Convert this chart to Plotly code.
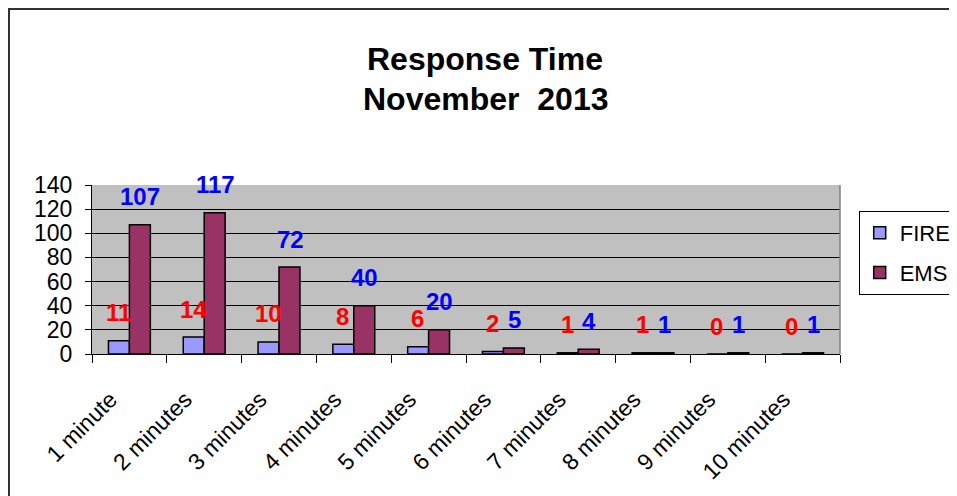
import plotly.graph_objects as go

categories = ["1 minute", "2 minutes", "3 minutes", "4 minutes", "5 minutes",
              "6 minutes", "7 minutes", "8 minutes", "9 minutes", "10 minutes"]
fire = [11, 14, 10, 8, 6, 2, 1, 1, 0, 0]
ems = [107, 117, 72, 40, 20, 5, 4, 1, 1, 1]
y_ticks = [0, 20, 40, 60, 80, 100, 120, 140]

FONT = "Liberation Sans, Arial, sans-serif"

fig = go.Figure()
fig.add_trace(go.Bar(name="FIRE", x=categories, y=fire, legendgroup="a",
                     marker=dict(color="#9999FF", line=dict(color="black", width=1.5))))
fig.add_trace(go.Bar(name="EMS", x=categories, y=ems, legendgroup="b",
                     marker=dict(color="#993366", line=dict(color="black", width=1.5))))

annotations = []
for c, v in zip(categories, fire):
    annotations.append(dict(x=c, y=v, xref="x", yref="y", text=str(v), showarrow=False,
                            xshift=-11, yshift=28, yanchor="middle",
                            font=dict(family=FONT, size=24, color="#FF0000", weight="bold")))
for c, v in zip(categories, ems):
    annotations.append(dict(x=c, y=v, xref="x", yref="y", text=str(v), showarrow=False,
                            xshift=11, yshift=28, yanchor="middle",
                            font=dict(family=FONT, size=24, color="#0000FF", weight="bold")))
annotations.append(dict(x=0.526, y=1.745, xref="paper", yref="paper", text="Response Time",
                        showarrow=False, yanchor="middle",
                        font=dict(family=FONT, size=32, color="black", weight="bold")))
annotations.append(dict(x=0.526, y=1.51, xref="paper", yref="paper", text="November\u00a0 2013",
                        showarrow=False, yanchor="middle",
                        font=dict(family=FONT, size=32, color="black", weight="bold")))

fig.update_layout(
    width=949, height=488,
    margin=dict(l=84, r=117, t=177, b=142, autoexpand=False),
    paper_bgcolor="white", plot_bgcolor="#C0C0C0",
    barmode="group", bargap=0.44, bargroupgap=0,
    font=dict(family=FONT, size=23, color="black"),
    showlegend=True,
    legend=dict(x=1.025, y=0.846, xanchor="left", yanchor="top",
                bordercolor="black", borderwidth=1, bgcolor="white",
                font=dict(family=FONT, size=22, color="black"),
                traceorder="grouped", tracegroupgap=8),
    annotations=annotations,
    shapes=[
        dict(type="line", xref="paper", yref="paper", x0=1, x1=1, y0=0, y1=1,
             line=dict(color="#808080", width=1.5)),
        dict(type="rect", xref="paper", yref="paper",
             x0=-83 / 748, x1=1.3, y0=-1.0, y1=1 + 176 / 169,
             line=dict(color="#333333", width=2), fillcolor="rgba(0,0,0,0)", layer="below"),
    ],
)
fig.update_xaxes(type="category", showline=True, linecolor="black", linewidth=1,
                 ticks="outside", tickson="boundaries", ticklen=8, tickcolor="black",
                 tickangle=-45, showgrid=False, ticklabelstandoff=22, ticklabelshift=-19,
                 tickfont=dict(family=FONT, size=23, color="black"))
fig.update_yaxes(range=[0, 140], tickvals=y_ticks, showline=True, linecolor="black", linewidth=1,
                 ticks="outside", ticklen=6, tickcolor="black", ticklabelstandoff=8,
                 showgrid=True, gridcolor="black", gridwidth=1, zeroline=False,
                 tickfont=dict(family=FONT, size=23, color="black"))

fig.write_html("out.html")
